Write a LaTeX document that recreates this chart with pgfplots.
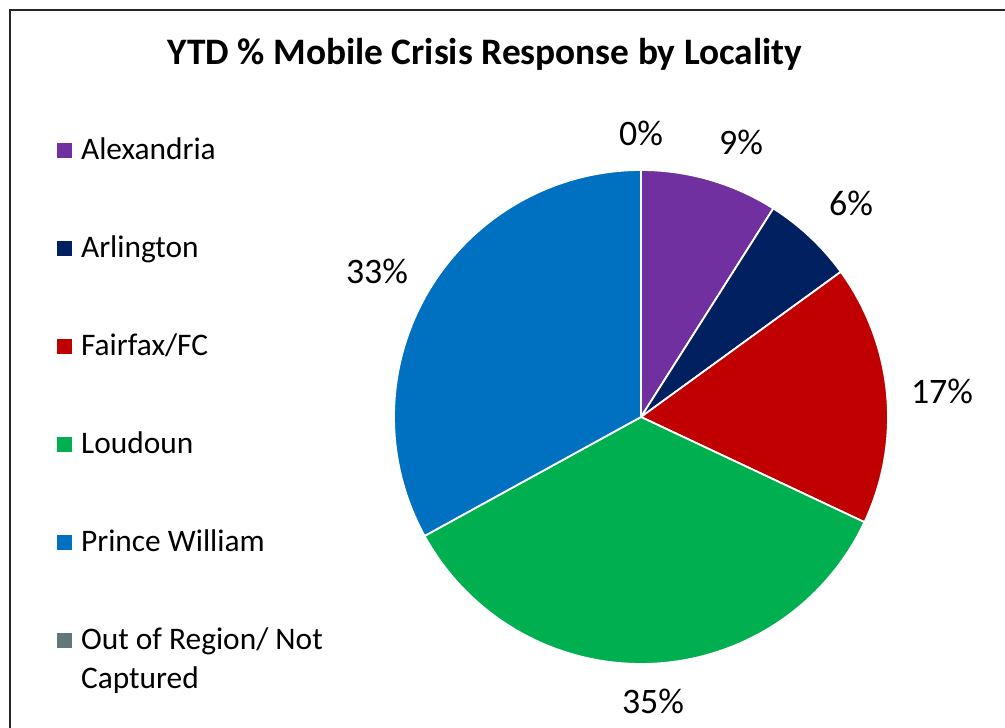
\documentclass[border=0pt]{standalone}
\usepackage{pgfplots}
\pgfplotsset{compat=1.18}
\usepackage{fontspec}
\setmainfont{Carlito}
\definecolor{alex}{HTML}{7030A0}
\definecolor{arl}{HTML}{002060}
\definecolor{fair}{HTML}{C00000}
\definecolor{loud}{HTML}{00B050}
\definecolor{pw}{HTML}{0070C0}
\definecolor{oor}{RGB}{96,120,120}
\def\cum{0}
\newcommand\slice[3]{%
  \pgfmathsetmacro\a{90-3.6*\cum}%
  \pgfmathsetmacro\b{90-3.6*(\cum+#1)}%
  \edef\temp{\noexpand\addplot[fill=#2, draw=white, line width=1.8bp, domain=\b:\a, samples=90]
    ({641+247*cos(x)},{311+247*sin(x)}) -- (axis cs:641,311) -- cycle;}%
  \temp
  \addlegendentry{#3}%
  \pgfmathsetmacro\cum{\cum+#1}%
  \global\let\cum\cum
}
\begin{document}
\begin{tikzpicture}
\useasboundingbox (0,0) rectangle (1005bp,728bp);
\draw[line width=1.2bp, black!85] (10bp,0) -- (10bp,718bp) -- (1005bp,718bp);
\begin{axis}[
  at={(0,0)}, anchor=south west,
  scale only axis, width=1005bp, height=728bp,
  xmin=0, xmax=1005, ymin=0, ymax=728,
  hide axis, clip=false,
  legend style={at={(axis cs:54,592)}, anchor=north west, draw=none, fill=none,
    font=\fontsize{31.5}{39}\selectfont, row sep=69bp, column sep=0bp,
    nodes={inner sep=0pt, text height=21bp, text depth=8bp, anchor=base west}},
  legend cell align=left,
  legend image code/.code={\fill[#1, draw=none] (0bp,1bp) rectangle (15bp,16bp);\path (23bp,0);},
]
% centre (641,311) in flipped pixel coordinates, radius 247
\slice{9}{alex}{Alexandria}
\slice{6}{arl}{Arlington}
\slice{17}{fair}{Fairfax/FC}
\slice{35}{loud}{Loudoun}
\slice{33}{pw}{Prince William}
\addlegendimage{fill=oor}
\addlegendentry{\parbox[t]{300bp}{Out of Region/ Not\\Captured}}
\draw[white, line width=1.8bp] (axis cs:641,311) -- (axis cs:641,558);
% title and data labels
\node[anchor=base, font=\fontsize{37.5}{42}\selectfont\bfseries] at (axis cs:485,663) {YTD \% Mobile Crisis Response by Locality};
\begin{scope}[every node/.style={anchor=base, font=\fontsize{36}{40}\selectfont, inner sep=0pt}]
\node at (axis cs:641,582) {0\%};
\node at (axis cs:741,573) {9\%};
\node at (axis cs:851,512) {6\%};
\node at (axis cs:942,324) {17\%};
\node at (axis cs:653,14) {35\%};
\node at (axis cs:377,444) {33\%};
\end{scope}
\end{axis}
\end{tikzpicture}
\end{document}
